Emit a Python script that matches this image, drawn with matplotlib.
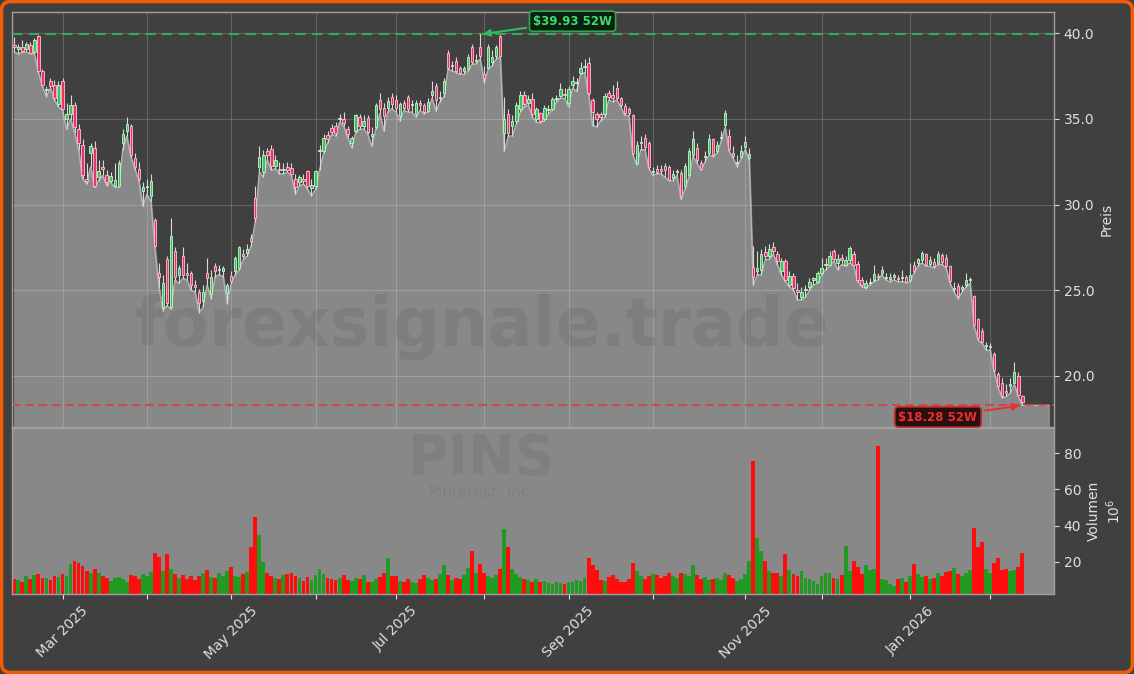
import numpy as np
import pandas as pd
import matplotlib
matplotlib.use('Agg')
import matplotlib.pyplot as plt
from matplotlib.patches import FancyBboxPatch
from matplotlib.transforms import IdentityTransform
from matplotlib.ticker import FixedLocator, FixedFormatter, FormatStrFormatter, MultipleLocator

# trading days (US market holidays left out)
holidays = ['2025-02-17', '2025-04-18', '2025-05-26', '2025-06-19', '2025-07-04',
            '2025-09-01', '2025-11-27', '2025-12-25', '2026-01-01', '2026-01-19']
dates = pd.bdate_range('2025-02-12', '2026-02-12', freq='C', holidays=holidays)

opens = [
    39.3, 39.1, 39.2, 39.06, 39.3, 38.9, 39.85, 37.8, 36.7, 37.2, 37.0, 35.85,
    37.2, 35.0, 35.3, 35.8, 34.4, 33.5, 31.5, 33.0, 33.3, 31.6, 32.2, 31.75, 31.4, 31.1, 31.1, 33.6, 34.3, 34.6, 32.7, 32.05, 30.8,
    31.0, 30.5, 29.1, 26.0, 24.05, 26.8, 24.05, 27.3, 25.9, 27.0, 26.0, 26.0, 25.3, 24.9, 24.4, 26.0, 24.8, 26.4, 26.2, 26.1, 24.85,
    25.85, 26.1, 26.3, 27.1, 27.2, 28.05, 30.4, 32.2, 31.9, 33.1, 33.26, 32.28, 32.1, 32.0, 32.2, 32.15, 31.5, 31.3, 31.5, 31.95, 30.98,
    31.07, 33.1, 33.1, 34.04, 34.48, 34.6, 35.0, 35.0, 34.43, 33.57, 34.3, 35.1, 34.6, 35.05, 34.0, 34.5, 36.1, 35.66, 35.66, 36.25,
    36.1, 35.17, 35.95, 36.25, 35.8, 35.27, 35.95, 35.8, 35.46, 36.4, 36.9, 36.2, 36.5, 38.85, 38.1, 38.4, 37.95, 37.77, 37.9, 39.17, 38.4, 39.17,
    37.6, 38.0, 38.3, 38.65, 39.84, 34.2, 35.3, 34.6, 34.9, 35.56, 36.4, 35.94, 36.14, 34.97, 35.32, 34.97, 35.5, 35.55, 36.15, 36.34, 36.45,
    35.94, 36.96, 37.1, 37.7, 38.05, 38.25, 36.1, 35.26, 35.3, 35.26, 36.53, 36.4, 36.8, 36.2, 35.75, 35.55, 35.2, 32.43, 33.6, 33.9, 33.6,
    31.9, 32.08, 32.08, 32.27, 32.2, 31.56, 31.9, 31.85, 31.07, 31.7, 32.9, 33.3, 32.4, 32.8, 33.0, 33.8, 33.1, 33.9, 34.62, 34.0, 33.0, 32.4, 32.8,
    33.35, 32.7, 26.33, 26.1, 26.2, 27.24, 26.97, 27.5, 27.1, 26.1, 26.7, 25.33, 25.81, 25.0, 24.6, 25.0, 25.2, 25.6, 25.5,
    26.0, 26.5, 26.5, 27.3, 26.6, 26.9, 26.5, 26.76, 27.1, 26.56, 25.6, 25.2, 25.4, 25.6, 25.8, 26.0, 25.7, 25.65, 25.77, 25.7, 25.7, 25.8,
    25.6, 26.5, 26.6, 26.76, 27.1, 26.56, 26.66, 26.6, 27.04, 26.9, 26.4, 25.1, 25.26, 25.06, 25.31, 25.6, 24.64, 23.3, 22.65, 21.75,
    21.7, 21.3, 20.1, 19.6, 19.1, 19.4, 19.6, 20.0, 18.8,
]
highs = [
    39.8, 39.4, 39.6, 39.5, 39.5, 39.7, 39.9, 37.9, 36.9, 37.4, 37.3, 37.2,
    37.4, 35.9, 36.4, 36.0, 34.7, 33.8, 32.4, 33.6, 33.7, 32.6, 32.6, 32.0, 31.9, 32.4, 32.6, 34.4, 35.1, 34.7, 33.0, 32.5, 31.3,
    31.5, 31.8, 29.2, 26.6, 25.9, 27.0, 29.2, 27.5, 26.5, 27.5, 26.6, 26.1, 25.6, 25.1, 25.3, 26.9, 26.2, 26.6, 26.5, 26.4, 25.4,
    26.1, 27.0, 27.6, 27.4, 27.7, 28.3, 31.1, 33.4, 33.2, 33.3, 33.5, 32.9, 32.5, 32.4, 32.5, 32.4, 31.8, 31.7, 31.8, 32.0, 31.5,
    32.0, 33.5, 34.1, 34.3, 34.7, 34.8, 35.3, 35.4, 34.6, 34.0, 35.3, 35.3, 35.2, 35.2, 34.5, 35.9, 36.5, 35.9, 36.3, 36.5,
    36.4, 36.0, 36.1, 36.4, 36.1, 36.1, 36.1, 35.9, 36.2, 37.2, 37.1, 36.6, 37.4, 39.0, 38.4, 38.6, 38.1, 38.1, 38.8, 39.4, 38.8, 39.93,
    38.1, 39.4, 39.0, 39.3, 39.88, 36.3, 35.6, 35.2, 36.0, 36.6, 36.6, 36.4, 36.5, 35.7, 35.4, 35.8, 35.8, 36.3, 36.4, 37.1, 36.8,
    36.9, 37.5, 37.4, 38.3, 38.5, 38.6, 36.2, 35.4, 35.4, 36.5, 36.7, 37.0, 37.2, 36.3, 35.9, 35.7, 35.3, 33.7, 34.0, 34.1, 33.7,
    32.2, 32.3, 32.3, 32.4, 32.3, 32.0, 32.1, 32.0, 32.4, 33.3, 34.3, 33.6, 32.6, 33.1, 34.1, 33.9, 33.7, 34.3, 35.5, 34.4, 33.4, 32.9, 33.5,
    34.0, 33.3, 27.6, 27.3, 27.4, 27.6, 27.7, 27.8, 27.3, 26.9, 26.8, 26.1, 26.0, 25.4, 25.2, 25.3, 25.7, 25.8, 26.1,
    26.9, 26.9, 27.3, 27.4, 27.1, 27.1, 27.0, 27.57, 27.3, 26.7, 25.8, 25.6, 25.7, 26.5, 26.0, 26.4, 26.0, 26.0, 26.0, 25.9, 26.2, 25.9,
    26.6, 26.7, 26.9, 27.3, 27.2, 27.0, 26.9, 27.3, 27.2, 27.1, 26.5, 25.5, 25.4, 25.3, 26.0, 25.8, 24.7, 23.4, 22.8, 22.0,
    21.9, 21.4, 20.2, 19.9, 19.5, 19.9, 20.84, 20.2, 18.9,
]
lows = [
    38.9, 38.8, 38.9, 38.9, 38.8, 38.8, 37.7, 36.9, 36.3, 36.8, 36.1, 35.7,
    35.5, 34.4, 35.0, 34.2, 33.2, 31.5, 31.2, 32.2, 31.0, 31.4, 31.7, 31.1, 31.3, 31.0, 31.0, 33.2, 34.0, 32.8, 32.1, 31.4, 29.9,
    30.6, 30.2, 27.5, 25.2, 23.8, 24.1, 23.9, 25.6, 25.4, 25.7, 25.6, 25.0, 24.9, 23.7, 24.0, 25.3, 24.5, 25.8, 25.9, 25.8, 24.2,
    25.4, 25.9, 26.2, 26.8, 27.0, 27.6, 29.0, 31.9, 31.6, 32.6, 32.0, 32.1, 31.8, 31.8, 31.9, 31.7, 30.6, 31.1, 31.2, 30.9, 30.5,
    30.9, 32.0, 33.0, 33.6, 34.1, 34.0, 34.8, 34.6, 33.9, 33.3, 34.2, 34.4, 34.4, 34.1, 33.4, 34.4, 35.3, 34.3, 35.4, 35.6,
    35.4, 34.9, 35.5, 35.4, 35.4, 35.1, 35.5, 35.3, 35.4, 36.2, 35.46, 36.0, 36.3, 37.9, 37.8, 37.7, 37.6, 37.6, 37.8, 38.2, 38.2, 38.5,
    37.1, 37.9, 38.1, 38.5, 38.6, 33.1, 34.0, 34.0, 34.7, 35.4, 35.7, 35.8, 35.1, 34.8, 34.78, 34.9, 35.3, 35.5, 36.0, 36.2, 36.2,
    35.7, 36.8, 36.6, 37.6, 37.7, 36.4, 34.6, 34.55, 34.9, 35.1, 36.1, 36.0, 36.1, 35.7, 35.2, 35.2, 32.9, 32.3, 33.2, 33.2, 32.1,
    31.7, 31.8, 31.8, 31.6, 31.4, 31.4, 31.7, 30.3, 30.9, 31.6, 32.8, 32.4, 32.0, 32.5, 32.9, 32.8, 33.0, 33.7, 34.5, 33.1, 32.7, 32.2, 32.7,
    33.2, 32.6, 25.3, 25.9, 25.9, 26.8, 26.8, 27.1, 26.5, 25.9, 25.5, 25.2, 25.0, 24.44, 24.44, 24.6, 25.0, 25.3, 25.4,
    25.9, 26.2, 26.4, 26.7, 26.2, 26.5, 26.4, 26.6, 26.4, 25.5, 25.2, 25.1, 25.3, 25.5, 25.6, 25.9, 25.6, 25.5, 25.6, 25.5, 25.5, 25.45,
    25.5, 26.0, 26.4, 26.6, 26.4, 26.4, 26.3, 26.5, 26.5, 26.3, 25.4, 24.9, 24.5, 24.9, 25.2, 25.4, 22.9, 22.1, 21.9, 21.5,
    21.5, 20.2, 19.3, 18.7, 18.8, 19.0, 19.5, 18.8, 18.28,
]
closes = [
    39.2, 39.2, 38.95, 39.35, 38.85, 39.6, 37.8, 37.0, 36.75, 36.9, 36.2, 37.0,
    35.6, 35.3, 35.8, 34.5, 33.6, 31.75, 31.4, 33.4, 31.1, 31.95, 32.05, 31.3, 31.65, 31.45, 32.4, 34.1, 34.7, 32.9, 32.2, 31.5, 31.0,
    31.05, 31.4, 27.6, 25.75, 25.4, 24.25, 28.15, 25.8, 26.3, 25.9, 25.9, 25.3, 25.2, 24.25, 24.9, 25.7, 25.8, 26.1, 26.25, 26.3, 25.3,
    25.55, 26.9, 27.5, 27.0, 27.4, 27.85, 29.2, 32.8, 32.9, 32.9, 32.24, 32.63, 32.0, 32.1, 32.0, 31.76, 31.0, 31.6, 31.4, 31.07, 31.17,
    31.95, 33.15, 33.9, 33.8, 34.23, 34.2, 35.07, 34.74, 34.1, 33.9, 35.2, 34.6, 34.9, 34.23, 34.1, 35.8, 35.56, 35.17, 36.05, 35.85,
    35.66, 35.85, 35.66, 35.56, 35.85, 35.95, 35.8, 35.4, 36.0, 36.6, 36.1, 36.3, 37.2, 38.0, 38.15, 37.8, 37.7, 37.95, 38.6, 38.33, 38.45, 38.65,
    37.4, 39.2, 38.6, 39.17, 38.7, 35.0, 34.2, 34.9, 35.8, 36.4, 35.85, 36.14, 35.26, 35.55, 34.87, 35.65, 35.55, 36.14, 36.2, 36.77, 36.4,
    36.77, 37.22, 37.12, 38.0, 38.07, 36.53, 35.4, 34.97, 35.1, 36.34, 36.3, 36.2, 36.2, 35.8, 35.36, 35.32, 33.02, 33.5, 33.62, 33.37, 32.2,
    31.92, 31.9, 31.94, 32.04, 31.46, 31.8, 31.92, 30.48, 32.27, 33.1, 33.8, 32.6, 32.1, 32.82, 33.8, 32.9, 33.5, 33.97, 35.32, 33.23, 32.86, 32.5, 33.1,
    33.67, 32.94, 25.77, 26.3, 27.1, 27.0, 27.4, 27.3, 26.7, 26.7, 25.6, 25.81, 25.14, 24.9, 24.9, 25.1, 25.5, 25.7, 26.0,
    26.3, 26.56, 27.0, 26.8, 26.8, 26.76, 26.76, 27.44, 26.47, 25.6, 25.3, 25.4, 25.5, 25.97, 25.78, 26.2, 25.72, 25.8, 25.9, 25.65, 25.8, 25.5,
    25.9, 26.1, 26.8, 27.2, 26.5, 26.76, 26.4, 27.14, 26.66, 26.4, 25.55, 25.12, 24.64, 25.2, 25.57, 25.62, 22.98, 22.2, 22.0, 21.78,
    21.72, 20.35, 19.4, 18.8, 19.0, 19.5, 20.2, 18.9, 18.5,
]
# volume in millions
volumes = [
    10.5, 9.8, 8.9, 12.0, 10.6, 12.5, 13.0, 11.2, 10.8, 9.7, 12.3, 11.5,
    13.0, 12.0, 18.5, 20.2, 19.4, 17.8, 15.0, 13.5, 16.1, 14.0, 12.2, 11.0, 9.5, 10.8, 11.5, 10.2, 9.0, 12.5, 11.8, 10.4, 13.0,
    12.0, 14.5, 25.0, 22.8, 15.0, 24.1, 16.0, 13.2, 11.0, 12.4, 10.5, 11.8, 9.9, 12.3, 13.5, 15.2, 11.7, 10.9, 13.8, 12.2, 14.6,
    16.8, 12.0, 11.5, 13.0, 14.2, 28.0, 44.5, 34.5, 20.0, 13.5, 12.0, 11.2, 10.4, 12.5, 13.3, 14.0, 12.0, 10.8, 9.5, 11.6, 10.0,
    12.8, 16.0, 13.0, 11.0, 10.5, 9.6, 11.2, 12.5, 10.0, 9.2, 11.0, 10.3, 12.8, 9.0, 8.5, 10.2, 11.4, 13.5, 22.0, 12.0,
    12.0, 9.5, 8.8, 10.2, 9.0, 8.4, 10.5, 12.5, 11.0, 9.8, 10.6, 13.2, 18.0, 12.5, 9.6, 11.0, 10.3, 12.8, 16.5, 26.0, 14.0, 18.5,
    13.5, 12.0, 11.0, 12.5, 16.0, 38.0, 28.0, 16.0, 13.0, 11.5, 10.2, 9.8, 9.0, 10.5, 8.6, 9.4, 8.0, 7.5, 9.0, 8.2, 7.8,
    9.0, 8.5, 10.0, 9.2, 11.0, 22.0, 18.0, 15.5, 10.0, 9.5, 11.5, 12.5, 10.5, 9.0, 8.8, 10.2, 19.5, 15.0, 12.0, 10.5, 11.8,
    13.0, 12.5, 10.8, 12.0, 13.5, 12.2, 11.0, 14.0, 13.0, 12.0, 18.0, 12.5, 10.2, 11.5, 9.8, 10.5, 11.2, 10.0, 13.5, 12.8, 11.0, 9.5, 10.6,
    13.0, 20.5, 76.0, 33.0, 26.0, 20.5, 15.0, 13.5, 14.0, 12.0, 24.0, 15.5, 13.0, 12.2, 14.8, 11.0, 10.2, 9.5, 7.8,
    12.0, 14.0, 13.5, 11.0, 10.5, 12.5, 28.5, 15.0, 20.5, 17.0, 13.0, 18.0, 15.5, 16.0, 84.0, 10.5, 9.8, 7.5, 6.5, 10.2, 11.0, 9.0,
    12.0, 18.5, 13.0, 11.5, 12.0, 10.5, 11.0, 13.5, 12.0, 14.5, 15.0, 16.5, 13.0, 12.0, 14.0, 15.5, 38.5, 28.0, 31.0, 16.0,
    14.0, 19.0, 22.0, 15.5, 16.0, 15.0, 15.5, 17.0, 25.0,
]

o = np.array(opens)
h = np.array(highs)
l = np.array(lows)
c = np.array(closes)
v = np.array(volumes)
x = np.arange(len(dates))
up = c >= o

bg = '#404040'
txt = '#e0e0e0'

fig = plt.figure(figsize=(11.34, 6.74), dpi=100, facecolor=bg)
# orange rounded frame, in pixels
fig.patches.append(FancyBboxPatch((1.5, 1.5), 1131, 671, boxstyle='round,pad=0,rounding_size=9',
                                  transform=IdentityTransform(), fill=False,
                                  edgecolor='#f25c05', linewidth=2.6, zorder=10))

ax1 = fig.add_axes([0.0106, 0.3665, 0.9189, 0.6157], facecolor=bg)
ax2 = fig.add_axes([0.0106, 0.1187, 0.9189, 0.2463], facecolor='#888888', sharex=ax1)

# grey area under the lows
xmax = 258.9
xf = np.append(x, xmax - 1.3)
lf = np.append(l, l[-1])
ax1.fill_between(xf, lf, 0, color='#888888', zorder=1)
ax1.plot(xf, lf, color='#b4b4b4', lw=1, zorder=1.5)

ax1.text(0.451, 0.241, 'forexsignale.trade', transform=ax1.transAxes, fontsize=48,
         fontweight='bold', color='#555555', alpha=0.18, ha='center', va='center', zorder=2)

# candles
ax1.vlines(x, l, h, color='#d8d8d8', lw=0.8, zorder=3)
body_lo = np.minimum(o, c)
body_h = np.maximum(np.abs(c - o), 0.06)
ax1.bar(x[up], body_h[up], bottom=body_lo[up], width=0.6, color='#3cc35a',
        edgecolor='#c8f5d2', linewidth=0.6, zorder=4)
ax1.bar(x[~up], body_h[~up], bottom=body_lo[~up], width=0.6, color='#e8336b',
        edgecolor='#ffc2d2', linewidth=0.6, zorder=4)

# 52 week high / low
hi_i = int(np.argmax(h))
lo_i = int(np.argmin(l))
hi, lo = h[hi_i], l[lo_i]
ax1.axhline(hi, color='#3aa65e', ls=(0, (5, 3)), lw=1.5, zorder=2.5)
ax1.axhline(lo, color='#e23a3a', ls=(0, (5, 3)), lw=1.2, zorder=2.5)
ax1.annotate('\\$%.2f 52W' % hi, xy=(hi_i, hi), xytext=(hi_i + 23, hi + 0.77),
             color='#3ddc6a', fontsize=8.5, fontweight='bold', ha='center', va='center',
             bbox=dict(boxstyle='round,pad=0.3', fc='#0b1f10', ec='#2fa84f', lw=1.2),
             arrowprops=dict(arrowstyle='-|>', color='#2fbf5a', lw=1.5, mutation_scale=10),
             zorder=6)
ax1.annotate('\\$%.2f 52W' % lo, xy=(lo_i, lo), xytext=(lo_i - 21, lo - 0.68),
             color='#e83030', fontsize=8.5, fontweight='bold', ha='center', va='center',
             bbox=dict(boxstyle='round,pad=0.3', fc='#2a0f0f', ec='#c02424', lw=1.2),
             arrowprops=dict(arrowstyle='-|>', color='#e83030', lw=1.5, mutation_scale=10),
             zorder=6)

ax1.set_xlim(-0.57, xmax)
ax1.set_ylim(17.02, 41.24)
ax1.yaxis.tick_right()
ax1.yaxis.set_label_position('right')
ax1.yaxis.set_major_locator(MultipleLocator(5))
ax1.yaxis.set_major_formatter(FormatStrFormatter('%.1f'))
ax1.set_ylabel('Preis', color=txt, fontsize=10)
ax1.tick_params(axis='y', colors=txt, labelsize=10, length=3.5)
ax1.tick_params(axis='x', length=0, labelbottom=False)
ax1.grid(True, color='white', alpha=0.18, lw=0.8)

# volume
vcol = np.where(up, '#209a20', '#ff0d0d')
ax2.bar(x, v, width=0.95, color=vcol, zorder=2)
ax2.text(0.451, 0.815, 'PINS', transform=ax2.transAxes, fontsize=40, fontweight='bold',
         color='#555555', alpha=0.17, ha='center', va='center', zorder=1)
ax2.text(0.451, 0.61, 'Pinterest, Inc.', transform=ax2.transAxes, fontsize=11,
         color='#555555', alpha=0.18, ha='center', va='center', zorder=1)
ax2.set_ylim(2.1, 94)
ax2.yaxis.tick_right()
ax2.yaxis.set_label_position('right')
ax2.yaxis.set_major_locator(FixedLocator([20, 40, 60, 80]))
ax2.set_ylabel('Volumen\n$10^6$', color=txt, fontsize=10)
ax2.tick_params(axis='y', colors=txt, labelsize=10, length=3.5)

# month ticks at first trading day of each month
months = dates.month
first = [i for i in range(1, len(dates)) if months[i] != months[i - 1]]
labels = [dates[i].strftime('%b %Y') if dates[i].month % 2 == 1 else '' for i in first]
ax2.xaxis.set_major_locator(FixedLocator(first))
ax2.xaxis.set_major_formatter(FixedFormatter(labels))
ax2.tick_params(axis='x', colors=txt, labelsize=10, length=3.5)
plt.setp(ax2.get_xticklabels(), rotation=45, ha='center')

for ax in (ax1, ax2):
    for s in ax.spines.values():
        s.set_color('#a0a0a0')
        s.set_linewidth(1)

fig.savefig('out.png', dpi=100, facecolor=fig.get_facecolor())
plt.close()
